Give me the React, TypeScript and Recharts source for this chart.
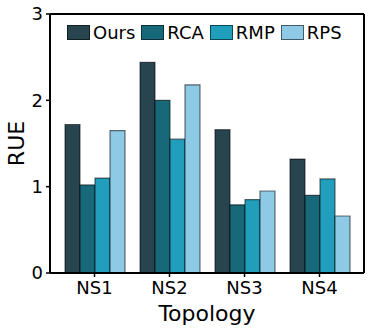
import React from 'react'
import { BarChart, Bar, XAxis, YAxis, Legend } from 'recharts'

const topologies = ['NS1', 'NS2', 'NS3', 'NS4']
const ours = [1.72, 2.44, 1.66, 1.32]
const rca = [1.02, 2.0, 0.79, 0.9]
const rmp = [1.1, 1.55, 0.85, 1.09]
const rps = [1.65, 2.18, 0.95, 0.66]
const yTicks = [0, 1, 2, 3]

const seriesList = [
  { key: 'Ours', color: '#27444f' },
  { key: 'RCA', color: '#17697a' },
  { key: 'RMP', color: '#219ebc' },
  { key: 'RPS', color: '#8ecae6' },
]

const data = topologies.map((name, i) => ({
  name,
  Ours: ours[i],
  RCA: rca[i],
  RMP: rmp[i],
  RPS: rps[i],
}))

const font = "'DejaVu Sans', sans-serif"

function LegendContent(props: any): React.JSX.Element {
  const { payload } = props
  return (
    <div style={{ display: 'flex', alignItems: 'center', fontFamily: font, fontSize: 18, color: '#000' }}>
      {(payload || []).map((p: any) => (
        <div key={p.value} style={{ display: 'flex', alignItems: 'center', marginRight: 6 }}>
          <span
            style={{
              display: 'inline-block',
              width: 21,
              height: 13,
              background: p.color,
              border: '1px solid rgba(0,0,0,0.55)',
              marginRight: 3,
            }}
          />
          <span>{p.value}</span>
        </div>
      ))}
    </div>
  )
}

function App(): React.JSX.Element {
  return (
    <div style={{ position: 'absolute', left: 0, top: 0, width: 374, height: 331, background: '#fff' }}>
      <BarChart
        width={374}
        height={331}
        data={data}
        margin={{ top: 13, right: 9, bottom: 0, left: 10 }}
        barGap={0}
        barSize={15}
      >
        <XAxis
          dataKey="name"
          height={58}
          padding={{ left: 7, right: 7 }}
          tick={{ fontSize: 18, fill: '#000', fontFamily: font }}
          tickLine={{ stroke: '#000', strokeWidth: 1.5 }}
          tickSize={4}
          tickMargin={4}
          axisLine={{ stroke: '#000', strokeWidth: 2 }}
          label={{ value: 'Topology', position: 'insideBottom', offset: 10, fontSize: 22, fill: '#000', fontFamily: font }}
        />
        <XAxis
          xAxisId="top"
          dataKey="name"
          orientation="top"
          height={1}
          tick={false}
          tickLine={false}
          axisLine={{ stroke: '#000', strokeWidth: 2 }}
        />
        <YAxis
          domain={[0, 3]}
          ticks={yTicks}
          width={40}
          tick={{ fontSize: 18, fill: '#000', fontFamily: font }}
          tickLine={{ stroke: '#000', strokeWidth: 1.5 }}
          tickSize={4}
          tickMargin={3}
          axisLine={{ stroke: '#000', strokeWidth: 2 }}
          label={{ value: 'RUE', angle: -90, position: 'insideLeft', offset: 6, fontSize: 22, fill: '#000', fontFamily: font, style: { textAnchor: 'middle' } }}
        />
        <YAxis
          yAxisId="right"
          orientation="right"
          domain={[0, 3]}
          width={1}
          tick={false}
          tickLine={false}
          axisLine={{ stroke: '#000', strokeWidth: 2 }}
        />
        <Legend
          layout="horizontal"
          verticalAlign="middle"
          align="center"
          content={<LegendContent />}
          wrapperStyle={{ top: 22, left: 67, width: 300, height: 24 }}
        />
        {seriesList.map((s) => (
          <Bar
            key={s.key}
            dataKey={s.key}
            fill={s.color}
            stroke="#000"
            strokeOpacity={0.55}
            strokeWidth={1.2}
            isAnimationActive={false}
          />
        ))}
      </BarChart>
    </div>
  )
}

export default App
